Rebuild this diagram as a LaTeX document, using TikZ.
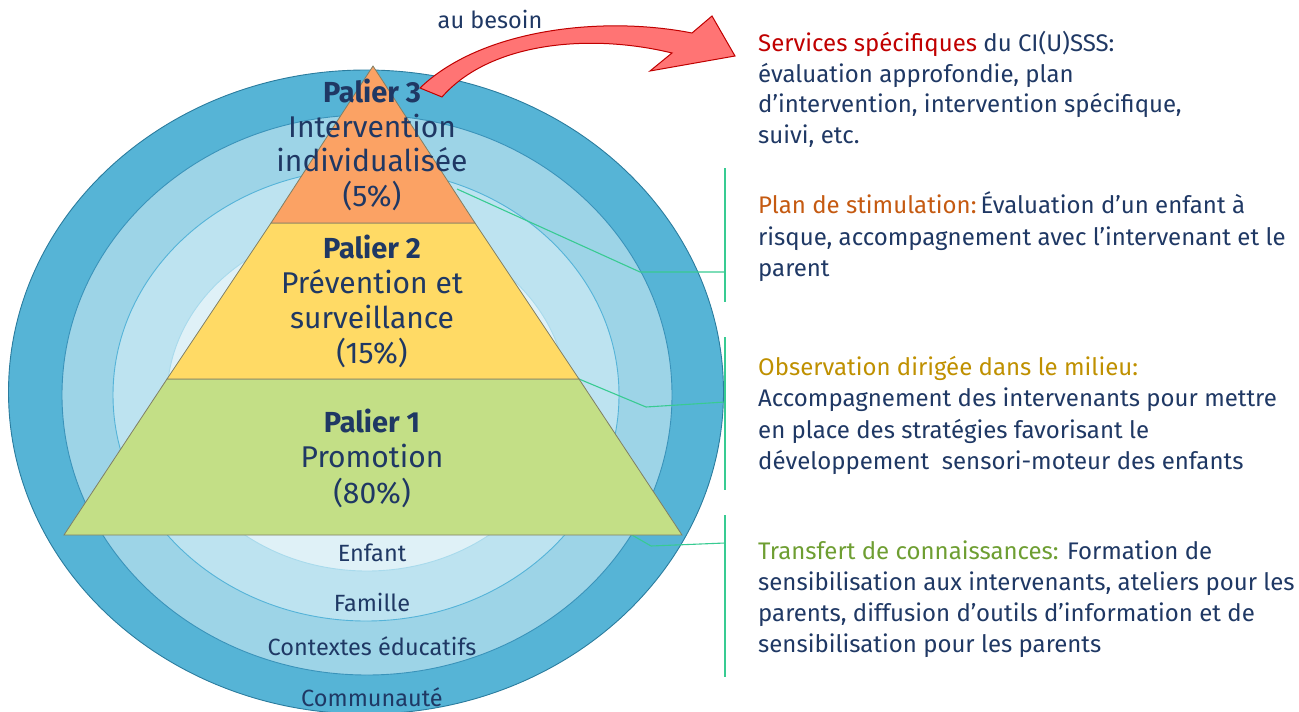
\documentclass[tikz,border=0pt]{standalone}
\usepackage{fontspec}
\setmainfont{Fira Sans}
\definecolor{ringA}{HTML}{56B4D6}
\definecolor{ringB}{HTML}{9DD4E7}
\definecolor{ringC}{HTML}{BDE3F0}
\definecolor{ringD}{HTML}{DFF1F7}
\definecolor{edgeA}{HTML}{2B7C9E}
\definecolor{edgeB}{HTML}{3A93BA}
\definecolor{edgeC}{HTML}{55B3D8}
\definecolor{edgeD}{HTML}{A8DAEC}
\definecolor{pthree}{HTML}{FBA264}
\definecolor{ptwo}{HTML}{FFDA65}
\definecolor{pone}{HTML}{C3DF86}
\definecolor{navy}{HTML}{1F3864}
\definecolor{redt}{HTML}{C00000}
\definecolor{oranget}{HTML}{C55A11}
\definecolor{goldt}{HTML}{BF9000}
\definecolor{greent}{HTML}{6E9E32}
\definecolor{linkg}{HTML}{38CB92}
\definecolor{arrowfill}{HTML}{FF7474}
\definecolor{arrowedge}{HTML}{C00000}
\definecolor{tierline}{HTML}{7F7F66}
\tikzset{
  ring/.style={line width=0.9pt},
  tier/.style={draw=tierline, line width=0.8pt},
  ptxt/.style={text=navy, font=\fontsize{30}{32}\selectfont, inner sep=0pt, anchor=base},
  ptitle/.style={ptxt, font=\fontsize{29}{32}\selectfont\bfseries},
  rtxt/.style={text=navy, font=\fontsize{23.5}{26}\selectfont, inner sep=0pt, anchor=base},
  desc/.style={text=navy, font=\fontsize{24}{31}\selectfont, inner sep=0pt, anchor=base west},
  link/.style={draw=linkg, line width=1.1pt},
}
\begin{document}
\begin{tikzpicture}[x=1pt,y=-1pt]
\useasboundingbox (0,0) rectangle (1299,712);
\begin{scope}
\clip (0,0) rectangle (1299,712);
\fill[ringA, draw=edgeA, ring] (366,392) ellipse [x radius=357.5, y radius=322];
\fill[ringB, draw=edgeB, ring] (367,395) ellipse [x radius=305, y radius=280];
\fill[ringC, draw=edgeC, ring] (366,395) ellipse [x radius=253, y radius=226];
\fill[ringD, draw=edgeD, ring] (367,398) ellipse [x radius=200, y radius=173];
\end{scope}
\coordinate (apex) at (373,66);
\coordinate (l3) at (271,223);
\coordinate (r3) at (475,223);
\coordinate (l2) at (167,379);
\coordinate (r2) at (579,379);
\coordinate (l1) at (64,535);
\coordinate (r1) at (682,535);
\coordinate (b1top) at (725,168);
\coordinate (b1bot) at (725,302);
\coordinate (b1mid) at (725,272);
\coordinate (k1) at (640,272);
\coordinate (s1) at (457,189);
\coordinate (b2top) at (725,337);
\coordinate (b2bot) at (725,490);
\coordinate (b2mid) at (725,402);
\coordinate (k2) at (646,407);
\coordinate (b3top) at (725,515);
\coordinate (b3bot) at (725,677);
\coordinate (b3mid) at (725,543);
\coordinate (k3) at (651,546);
\coordinate (s3) at (632,535);
\draw[link] (b1top) -- (b1bot);
\draw[link] (s1) -- (k1) -- (b1mid);
\draw[link] (b2top) -- (b2bot);
\draw[link] (r2) -- (k2) -- (b2mid);
\draw[link] (b3top) -- (b3bot);
\draw[link] (s3) -- (k3) -- (b3mid);
\filldraw[pone, tier] (l2) -- (r2) -- (r1) -- (l1) -- cycle;
\filldraw[ptwo, tier] (l3) -- (r3) -- (r2) -- (l2) -- cycle;
\filldraw[pthree, tier] (apex) -- (r3) -- (l3) -- cycle;
\filldraw[fill=arrowfill, draw=arrowedge, line width=1pt, line join=miter]
  (420,88) .. controls (480,30) and (600,15) .. (692,33)
  -- (712,16) -- (735,56) -- (650,71) -- (672,53)
  .. controls (590,33) and (490,42) .. (442,97) -- cycle;
\node[rtxt] (besoin) at (490,28) {au besoin};
\node[ptitle] (p3a) at (372,102) {Palier 3};
\node[ptxt] (p3b) at (372,137) {Intervention};
\node[ptxt] (p3c) at (372,171) {individualisée};
\node[ptxt] (p3d) at (372,206) {(5\%)};
\node[ptitle] (p2a) at (372,258) {Palier 2};
\node[ptxt] (p2b) at (372,293) {Prévention et};
\node[ptxt] (p2c) at (372,328) {surveillance};
\node[ptxt] (p2d) at (372,363) {(15\%)};
\node[ptitle] (p1a) at (372,432) {Palier 1};
\node[ptxt] (p1b) at (372,467) {Promotion};
\node[ptxt] (p1c) at (372,503) {(80\%)};
\node[rtxt] (enf) at (372,561) {Enfant};
\node[rtxt] (fam) at (372,611) {Famille};
\node[rtxt] (ctx) at (372,655) {Contextes éducatifs};
\node[rtxt] (com) at (372,706) {Communauté};
\node[desc] (d1a) at (758,51) {\textcolor{redt}{Services spécifiques} du CI(U)SSS:};
\node[desc] (d1b) at (758,82) {évaluation approfondie, plan};
\node[desc] (d1c) at (758,112) {d’intervention, intervention spécifique,};
\node[desc] (d1d) at (758,143) {suivi, etc.};
\node[desc] (d2a) at (758,213) {\textcolor{oranget}{Plan de stimulation:}\,Évaluation d’un enfant à};
\node[desc] (d2b) at (758,245) {risque, accompagnement avec l’intervenant et le};
\node[desc] (d2c) at (758,276) {parent};
\node[desc] (d3a) at (758,375) {\textcolor{goldt}{Observation dirigée dans le milieu:}};
\node[desc] (d3b) at (758,406) {Accompagnement des intervenants pour mettre};
\node[desc] (d3c) at (758,438) {en place des stratégies favorisant le};
\node[desc] (d3d) at (758,469) {développement\ \ sensori-moteur des enfants};
\node[desc] (d4a) at (758,559) {\textcolor{greent}{Transfert de connaissances:} Formation de};
\node[desc] (d4b) at (758,590) {sensibilisation aux intervenants, ateliers pour les};
\node[desc] (d4c) at (758,621) {parents, diffusion d’outils d’information et de};
\node[desc] (d4d) at (758,652) {sensibilisation pour les parents};
\end{tikzpicture}
\end{document}
